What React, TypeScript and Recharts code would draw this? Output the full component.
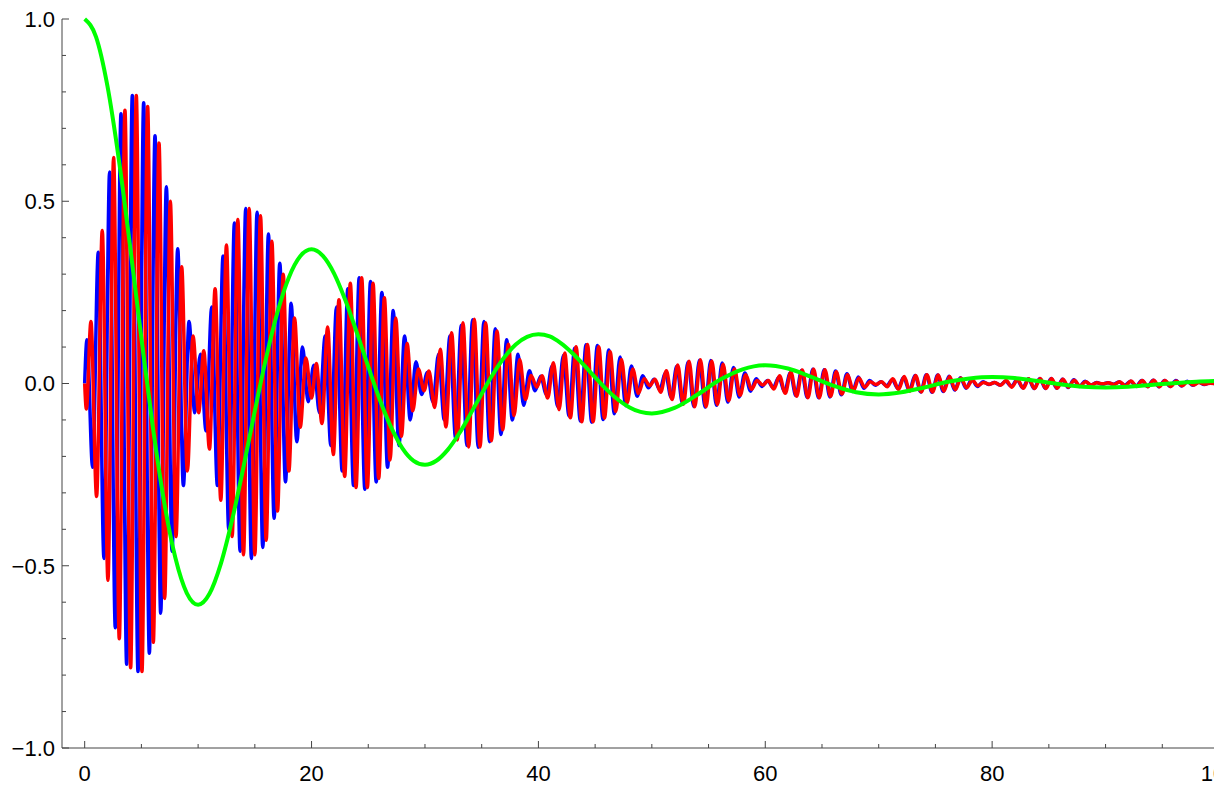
import React from "react";
import { LineChart, Line, XAxis, YAxis } from "recharts";

// carrier: one full cycle per unit of t, extrema every half unit
const HALF_PERIOD = 0.5;
const LOBE_LEN = 10;
const BLUE_FIRST = 0.2;

// blue extrema, one row per 10-unit beat lobe
const blueLobes: number[][] = [
  [0.12, -0.23, 0.36, -0.48, 0.58, -0.67, 0.74, -0.77, 0.79, -0.79, 0.77, -0.74, 0.68, -0.63, 0.54, -0.46, 0.37, -0.28, 0.17, -0.08],
  [0.08, -0.13, 0.21, -0.28, 0.35, -0.4, 0.44, -0.46, 0.48, -0.48, 0.47, -0.45, 0.41, -0.37, 0.33, -0.27, 0.22, -0.16, 0.1, -0.05],
  [0.05, -0.08, 0.13, -0.17, 0.21, -0.24, 0.26, -0.28, 0.29, -0.29, 0.28, -0.27, 0.25, -0.23, 0.2, -0.17, 0.13, -0.1, 0.06, -0.03],
  [0.03, -0.05, 0.08, -0.1, 0.13, -0.15, 0.16, -0.17, 0.175, -0.175, 0.17, -0.16, 0.15, -0.14, 0.12, -0.1, 0.08, -0.06, 0.035, -0.02],
  [0.02, -0.03, 0.047, -0.063, 0.077, -0.089, 0.097, -0.103, 0.106, -0.106, 0.104, -0.099, 0.092, -0.083, 0.073, -0.061, 0.048, -0.035, 0.021, -0.012],
  [0.012, -0.017, 0.028, -0.038, 0.047, -0.054, 0.059, -0.063, 0.064, -0.065, 0.063, -0.06, 0.056, -0.051, 0.044, -0.037, 0.029, -0.021, 0.013, -0.008],
  [0.008, -0.011, 0.017, -0.023, 0.029, -0.033, 0.036, -0.038, 0.039, -0.039, 0.038, -0.037, 0.034, -0.031, 0.027, -0.022, 0.018, -0.013, 0.008, -0.005],
  [0.005, -0.006, 0.01, -0.014, 0.017, -0.02, 0.022, -0.023, 0.024, -0.024, 0.023, -0.022, 0.02, -0.018, 0.016, -0.013, 0.011, -0.008, 0.005, -0.003],
  [0.003, -0.004, 0.006, -0.008, 0.01, -0.012, 0.013, -0.014, 0.014, -0.014, 0.014, -0.013, 0.012, -0.011, 0.01, -0.008, 0.006, -0.005, 0.003, -0.002],
  [0.002, -0.002, 0.004, -0.005, 0.006, -0.007, 0.008, -0.008, 0.009, -0.009, 0.008, -0.008, 0.008, -0.007, 0.006, -0.005, 0.004, -0.003, 0.002, -0.001],
];

// red trails blue; the lag shrinks lobe by lobe
const redLag = [0.35, 0.3, 0.22, 0.15, 0.12, 0.08, 0.06, 0.05, 0.04, 0.04];
const redStart = [
  { t: 0, v: 0 },
  { t: 0.15, v: -0.07 },
];
const redLobes: number[][] = [
  [0.17, -0.31, 0.42, -0.54, 0.62, -0.7, 0.75, -0.78, 0.79, -0.79, 0.76, -0.71, 0.66, -0.59, 0.5, -0.42, 0.32, -0.24, 0.13, -0.08],
  [0.09, -0.18, 0.26, -0.32, 0.38, -0.42, 0.45, -0.47, 0.48, -0.47, 0.46, -0.43, 0.39, -0.35, 0.3, -0.24, 0.18, -0.12, 0.07, -0.04],
  [0.055, -0.11, 0.155, -0.195, 0.23, -0.255, 0.275, -0.285, 0.29, -0.285, 0.275, -0.26, 0.235, -0.21, 0.18, -0.145, 0.11, -0.075, 0.04, -0.02],
  [0.034, -0.066, 0.094, -0.119, 0.139, -0.155, 0.167, -0.174, 0.176, -0.174, 0.167, -0.157, 0.144, -0.127, 0.108, -0.088, 0.066, -0.044, 0.022, -0.01],
  [0.021, -0.04, 0.057, -0.072, 0.084, -0.094, 0.101, -0.105, 0.107, -0.105, 0.101, -0.095, 0.087, -0.077, 0.066, -0.053, 0.04, -0.027, 0.013, -0.006],
  [0.012, -0.024, 0.035, -0.044, 0.051, -0.057, 0.061, -0.064, 0.065, -0.064, 0.062, -0.058, 0.053, -0.047, 0.04, -0.032, 0.024, -0.016, 0.008, -0.004],
  [0.008, -0.015, 0.021, -0.027, 0.031, -0.035, 0.037, -0.039, 0.039, -0.039, 0.038, -0.035, 0.032, -0.029, 0.024, -0.02, 0.015, -0.01, 0.005, -0.003],
  [0.005, -0.009, 0.013, -0.016, 0.019, -0.021, 0.022, -0.023, 0.024, -0.023, 0.023, -0.021, 0.019, -0.017, 0.015, -0.012, 0.009, -0.006, 0.003, -0.002],
  [0.003, -0.005, 0.008, -0.01, 0.011, -0.013, 0.013, -0.014, 0.014, -0.014, 0.014, -0.013, 0.012, -0.01, 0.009, -0.007, 0.005, -0.004, 0.002, -0.001],
  [0.002, -0.003, 0.005, -0.006, 0.007, -0.008, 0.008, -0.009, 0.009, -0.009, 0.008, -0.008, 0.007, -0.006, 0.005, -0.004, 0.003, -0.002, 0.001, -0.001],
];

// slow damped curve
const greenT = [
  0, 1, 2, 3, 4, 5, 6, 7, 8, 9, 10, 11, 12, 13, 14, 15, 16, 17, 18, 19, 20,
  21, 22, 23, 24, 25, 26, 27, 28, 29, 30, 31, 32, 33, 34, 35, 36, 37, 38, 39, 40,
  41, 42, 43, 44, 45, 46, 47, 48, 49, 50, 52, 54, 56, 58, 60, 62, 64, 66, 68, 70,
  72, 74, 76, 78, 80, 82, 84, 86, 88, 90, 92, 94, 96, 98, 100,
];
const greenV = [
  1.0, 0.951, 0.817, 0.617, 0.377, 0.124, -0.117, -0.324, -0.479, -0.575, -0.607,
  -0.577, -0.495, -0.374, -0.229, -0.075, 0.071, 0.196, 0.291, 0.349, 0.368,
  0.35, 0.301, 0.227, 0.139, 0.046, -0.043, -0.119, -0.177, -0.212, -0.223,
  -0.212, -0.182, -0.138, -0.084, -0.028, 0.026, 0.072, 0.107, 0.128, 0.135,
  0.129, 0.11, 0.083, 0.051, 0.017, -0.016, -0.044, -0.065, -0.078, -0.082,
  -0.067, -0.031, 0.01, 0.039, 0.05, 0.041, 0.019, -0.006, -0.024, -0.03,
  -0.024, -0.011, 0.004, 0.014, 0.018, 0.015, 0.007, -0.002, -0.009, -0.011,
  -0.009, -0.004, 0.001, 0.005, 0.007,
];

const xTicks = [0, 5, 10, 15, 20, 25, 30, 35, 40, 45, 50, 55, 60, 65, 70, 75, 80, 85, 90, 95, 100];
const xMajor = [0, 20, 40, 60, 80, 100];
const yTicks = [-1, -0.9, -0.8, -0.7, -0.6, -0.5, -0.4, -0.3, -0.2, -0.1, 0, 0.1, 0.2, 0.3, 0.4, 0.5, 0.6, 0.7, 0.8, 0.9, 1];
const yMajor = [-1, -0.5, 0, 0.5, 1];

const AXIS_COLOR = "#444";
const FONT = "'Liberation Sans', Arial, sans-serif";
const FONT_SIZE = 22;

const blueData = [
  { t: 0, v: 0 },
  ...blueLobes.flatMap((lobe, L) =>
    lobe.map((v, j) => ({ t: L * LOBE_LEN + BLUE_FIRST + j * HALF_PERIOD, v }))
  ),
];

const redData = [
  ...redStart,
  ...redLobes.flatMap((lobe, L) =>
    lobe.map((v, j) => ({ t: L * LOBE_LEN + BLUE_FIRST + redLag[L] + j * HALF_PERIOD, v }))
  ),
];

const greenData = greenT.map((t, i) => ({ t, v: greenV[i] }));

function fmtY(v: number) {
  return (v < 0 ? "\u2212" : "") + Math.abs(v).toFixed(1);
}

function YTick(props: any) {
  const { x, y, payload } = props;
  const major = yMajor.includes(payload.value);
  return (
    <g>
      <line x1={x} y1={y} x2={x + (major ? 7 : 4)} y2={y} stroke={AXIS_COLOR} />
      {major && (
        <text x={x - 7} y={y} dy="0.36em" textAnchor="end" fontSize={FONT_SIZE} fontFamily={FONT} fill="#000">
          {fmtY(payload.value)}
        </text>
      )}
    </g>
  );
}

function XTick(props: any) {
  const { x, y, payload } = props;
  const major = xMajor.includes(payload.value);
  return (
    <g>
      <line x1={x} y1={y} x2={x} y2={y - (major ? 7 : 4)} stroke={AXIS_COLOR} />
      {major && (
        <text x={x} y={y + 33} textAnchor="middle" fontSize={FONT_SIZE} fontFamily={FONT} fill="#000">
          {payload.value}
        </text>
      )}
    </g>
  );
}

export default function App() {
  // the source image is cropped just past x = 99.5, so the last label shows only its first digit
  return (
    <div style={{ position: "absolute", left: 0, top: 0, width: 1225, height: 785, background: "#fff" }}>
      <div style={{ width: 1214, height: 785, overflow: "hidden" }}>
        <LineChart width={1225} height={785} margin={{ top: 19, right: 6, bottom: 0, left: 0 }}>
          <XAxis
            type="number"
            dataKey="t"
            domain={[-2, 100]}
            ticks={xTicks}
            interval={0}
            height={37}
            tickSize={0}
            tickMargin={0}
            tickLine={false}
            axisLine={{ stroke: AXIS_COLOR }}
            tick={<XTick />}
          />
          <YAxis
            type="number"
            domain={[-1, 1]}
            ticks={yTicks}
            interval={0}
            width={62}
            tickSize={0}
            tickMargin={0}
            tickLine={false}
            axisLine={{ stroke: AXIS_COLOR }}
            tick={<YTick />}
          />
          <Line data={blueData} dataKey="v" type="monotone" stroke="#0000ff" strokeWidth={3.5} dot={false} isAnimationActive={false} />
          <Line data={redData} dataKey="v" type="monotone" stroke="#ff0000" strokeWidth={3.5} dot={false} isAnimationActive={false} />
          <Line data={greenData} dataKey="v" type="monotone" stroke="#00ff00" strokeWidth={4} dot={false} isAnimationActive={false} />
        </LineChart>
      </div>
    </div>
  );
}
